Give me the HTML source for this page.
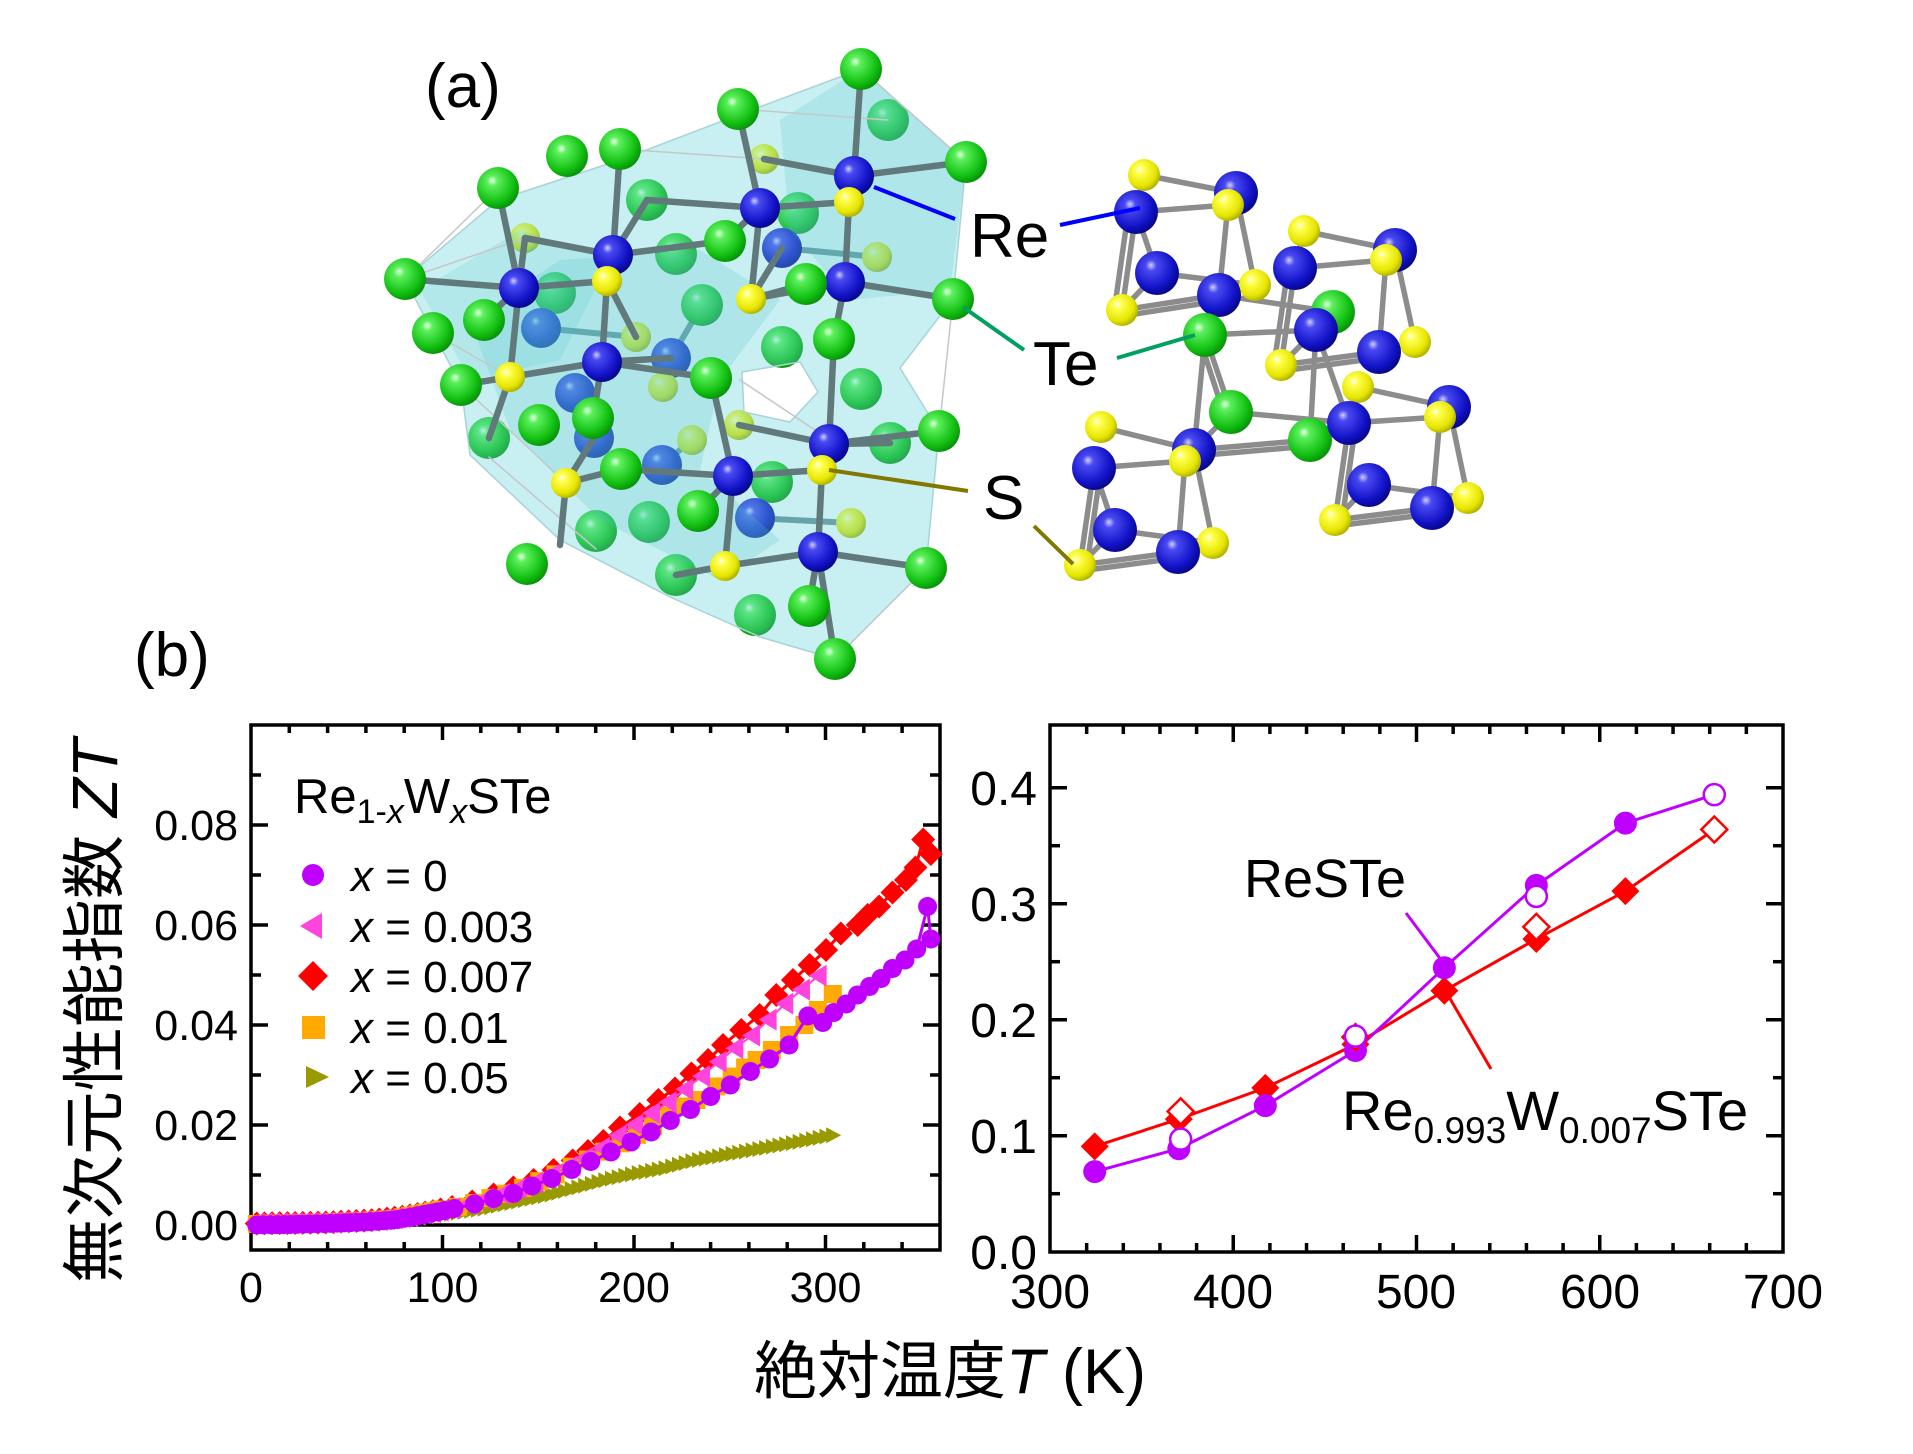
<!DOCTYPE html>
<html><head><meta charset="utf-8">
<style>html,body{margin:0;padding:0;background:#fff}svg{display:block}</style>
</head><body>
<svg id="s" xmlns="http://www.w3.org/2000/svg" width="1913" height="1454" viewBox="0 0 1913 1454" font-family="'Liberation Sans','Noto Sans CJK JP',sans-serif">
<defs>
<radialGradient id="gG" cx="0.4" cy="0.38" r="0.68" fx="0.36" fy="0.32">
<stop offset="0" stop-color="#e8ffe8"/><stop offset="0.18" stop-color="#5cf05c"/><stop offset="0.7" stop-color="#12c012"/><stop offset="1" stop-color="#068806"/></radialGradient>
<radialGradient id="gB" cx="0.4" cy="0.38" r="0.68" fx="0.36" fy="0.32">
<stop offset="0" stop-color="#d0d0ff"/><stop offset="0.18" stop-color="#4a4af2"/><stop offset="0.7" stop-color="#1212c8"/><stop offset="1" stop-color="#04047a"/></radialGradient>
<radialGradient id="gY" cx="0.4" cy="0.38" r="0.68" fx="0.36" fy="0.32">
<stop offset="0" stop-color="#ffffee"/><stop offset="0.2" stop-color="#ffff50"/><stop offset="0.7" stop-color="#e6e600"/><stop offset="1" stop-color="#a4a400"/></radialGradient>
</defs>
<rect width="1913" height="1454" fill="#fff"/>

<!-- Structure (a) -->
<g id="lback"></g>
<path fill="#5fd0d6" fill-opacity="0.34" fill-rule="evenodd" stroke="#a8d4d6" stroke-width="1.5" d="M405,279 L498,200 L620,160 L738,115 L861,69 L966,162 L953,299 L900,368 L939,431 L926,568 L835,659 L760,637 L670,597 L560,540 L470,455 L461,385 L433,333 Z M742,372 L800,362 L818,392 L790,422 L744,412 Z"/>
<path fill="#4cc4cc" fill-opacity="0.22" d="M470,320 L560,260 L700,250 L780,300 L720,380 L700,470 L780,540 L720,580 L600,520 L510,430 Z"/>
<path fill="#4cc4cc" fill-opacity="0.2" d="M780,120 L861,69 L966,162 L950,290 L850,300 L790,230 Z"/>
<path fill="#4cc4cc" fill-opacity="0.16" d="M420,290 L520,230 L610,260 L560,360 L470,380 Z"/>
<g id="lbond"></g>
<g id="lfront"></g>
<g id="rbond"></g>
<g id="ratoms"></g>

<g stroke-width="4" fill="none">
<line x1="874" y1="187" x2="955" y2="219" stroke="#0000ff"/>
<line x1="1060" y1="225" x2="1140" y2="208" stroke="#0000ff"/>
<line x1="963" y1="307" x2="1024" y2="350" stroke="#00a060"/>
<line x1="1117" y1="358" x2="1195" y2="335" stroke="#00a060"/>
<line x1="829" y1="470" x2="968" y2="491" stroke="#807800"/>
<line x1="1034" y1="526" x2="1073" y2="564" stroke="#807800"/>
</g>
<text x="425" y="107" font-size="62">(a)</text>
<text x="970" y="257" font-size="62">Re</text>
<text x="1033" y="385" font-size="62">Te</text>
<text x="983" y="519" font-size="62">S</text>
<text x="134" y="676" font-size="62">(b)</text>

<!-- axes -->
<rect x="251" y="725" width="689" height="525" fill="none" stroke="#000" stroke-width="3.5"/>
<line x1="251" y1="1225" x2="940" y2="1225" stroke="#000" stroke-width="3.5"/>
<rect x="1050" y="725" width="733" height="527" fill="none" stroke="#000" stroke-width="3.5"/>
<g id="axes"></g>
<g id="data"></g>

<!-- left tick labels -->
<g font-size="43" text-anchor="end">
<text x="238" y="1240">0.00</text>
<text x="238" y="1140">0.02</text>
<text x="238" y="1040">0.04</text>
<text x="238" y="940">0.06</text>
<text x="238" y="840">0.08</text>
</g>
<g font-size="43" text-anchor="middle">
<text x="251" y="1302">0</text>
<text x="442.5" y="1302">100</text>
<text x="634" y="1302">200</text>
<text x="825.5" y="1302">300</text>
</g>
<!-- right tick labels -->
<g font-size="48" text-anchor="end">
<text x="1037" y="1269">0.0</text>
<text x="1037" y="1153">0.1</text>
<text x="1037" y="1037">0.2</text>
<text x="1037" y="921">0.3</text>
<text x="1037" y="805">0.4</text>
</g>
<g font-size="48" text-anchor="middle">
<text x="1050" y="1308">300</text>
<text x="1233" y="1308">400</text>
<text x="1416" y="1308">500</text>
<text x="1600" y="1308">600</text>
<text x="1783" y="1308">700</text>
</g>

<!-- legend -->
<text x="294" y="813" font-size="49">Re<tspan font-size="34" dy="10">1-</tspan><tspan font-size="34" font-style="italic">x</tspan><tspan dy="-10">W</tspan><tspan font-size="34" font-style="italic" dy="10">x</tspan><tspan dy="-10">STe</tspan></text>
<g font-size="44">
<text x="351" y="891"><tspan font-style="italic">x</tspan> = 0</text>
<text x="351" y="942"><tspan font-style="italic">x</tspan> = 0.003</text>
<text x="351" y="992"><tspan font-style="italic">x</tspan> = 0.007</text>
<text x="351" y="1043"><tspan font-style="italic">x</tspan> = 0.01</text>
<text x="351" y="1093"><tspan font-style="italic">x</tspan> = 0.05</text>
</g>
<circle cx="313" cy="875" r="11" fill="#c000ff"/>
<polygon points="300,926 322,913 322,939" fill="#ff44dd"/>
<polygon points="313,961 328,976 313,991 298,976" fill="#ff0000"/>
<rect x="302" y="1016" width="23" height="23" fill="#ffaa00"/>
<polygon points="306,1066 306,1088 329,1077" fill="#999900"/>

<!-- annotations -->
<text x="1244" y="897" font-size="54">ReSTe</text>
<text x="1342" y="1130" font-size="56">Re<tspan font-size="37" dy="13">0.993</tspan><tspan dy="-13">W</tspan><tspan font-size="37" dy="13">0.007</tspan><tspan dy="-13">STe</tspan></text>
<line x1="1406" y1="913" x2="1445" y2="965" stroke="#c000ff" stroke-width="3"/>
<line x1="1445" y1="990" x2="1491" y2="1069" stroke="#ff0000" stroke-width="3"/>

<!-- axis titles -->
<text x="754" y="1393" font-size="63">絶対温度<tspan font-style="italic">T</tspan> (K)</text>
<text transform="translate(117,1011) rotate(-90)" text-anchor="middle" font-size="64">無次元性能指数 <tspan font-style="italic">ZT</tspan></text>
</svg>
<script>
(function(){
var NS='http://www.w3.org/2000/svg';
function mk(t,a,p){var e=document.createElementNS(NS,t);for(var k in a)e.setAttribute(k,a[k]);p.appendChild(e);return e;}
function $(i){return document.getElementById(i);}
var G='url(#gG)',B='url(#gB)',Y='url(#gY)';
function atoms(list,fill,r,p){list.forEach(function(q){mk('circle',{cx:q[0],cy:q[1],r:r,fill:fill},p);});}
function bonds(list,col,w,p){list.forEach(function(b){mk('line',{x1:b[0],y1:b[1],x2:b[2],y2:b[3],stroke:col,'stroke-width':w,'stroke-linecap':'round'},p);});}

/* ---------- left structure ---------- */
var lb=$('lback'),lbd=$('lbond'),lf=$('lfront');
bonds([[782,248,798,213],[782,248,877,257],[541,328,636,337],[671,358,663,387],[575,393,594,438],[662,465,692,440],[755,518,851,523],[755,518,772,482],[541,328,555,293],[671,358,702,305]],'#6d8c90',6,lb);
atoms([[888,120],[647,200],[676,254],[798,213],[555,293],[702,305],[782,347],[861,389],[489,438],[890,443],[649,522],[596,531],[676,575],[755,615],[772,482]],G,21,lb);
atoms([[782,248],[541,328],[671,358],[575,393],[594,438],[662,465],[755,518]],B,20,lb);
atoms([[764,159],[525,238],[877,257],[636,337],[663,387],[739,425],[692,440],[851,523]],Y,15,lb);
bonds([[405,279,525,238],[433,333,510,377],[461,385,566,483],[489,457,596,549],[620,149,764,159],[738,109,888,120],[861,69,966,162],[953,299,939,431],[926,568,835,659],[498,188,405,279],[740,380,830,440]],'#c4c8c8',1.5,lbd);
bonds([[861,69,854,176],[738,109,760,208],[854,176,966,162],[854,176,764,159],[854,176,849,202],[760,208,647,200],[760,208,849,202],[760,208,725,241],[849,202,845,282],[620,149,613,255],[613,255,647,200],[613,255,725,241],[498,188,519,288],[519,288,525,238],[525,238,613,255],[405,279,519,288],[519,288,607,281],[519,288,484,320],[607,281,602,362],[613,255,607,281],[607,281,636,337],[845,282,953,299],[845,282,834,339],[845,282,751,299],[782,248,751,299],[760,208,751,299],[834,339,829,444],[602,362,510,377],[602,362,711,378],[602,362,593,418],[519,288,510,377],[510,377,461,385],[711,378,733,476],[829,444,939,431],[829,444,822,470],[822,470,733,476],[822,470,818,552],[733,476,621,469],[733,476,698,511],[566,483,621,469],[818,552,926,568],[818,552,725,566],[818,552,809,606],[818,552,835,659],[733,476,725,566],[739,425,829,444],[566,483,594,438],[566,483,560,545],[806,284,845,282],[751,299,806,284],[602,362,671,358],[510,377,489,438],[725,566,676,575],[829,444,890,443]],'#62797c',6.5,lbd);
atoms([[854,176],[760,208],[613,255],[519,288],[845,282],[602,362],[829,444],[733,476],[818,552]],B,20,lf);
atoms([[861,69],[738,109],[567,156],[620,149],[966,162],[498,188],[725,241],[405,279],[484,320],[806,284],[953,299],[433,333],[834,339],[711,378],[461,385],[539,425],[593,418],[939,431],[621,469],[698,511],[527,564],[926,568],[809,606],[835,659]],G,21,lf);
atoms([[849,202],[607,281],[751,299],[510,377],[566,483],[822,470],[725,566]],Y,15,lf);

/* ---------- right structure ---------- */
var rb=$('rbond'),ra=$('ratoms');
bonds([[1144,175,1236,193],[1144,175,1136,212],[1136,212,1228,205],[1136,212,1122,310],[1128,214,1114,312],[1136,212,1157,273],[1157,273,1122,310],[1122,310,1219,295],[1122,316,1219,301],[1157,273,1255,285],[1228,205,1219,295],[1236,193,1255,285],[1219,295,1205,335],[1219,295,1333,312],[1205,335,1316,330],[1205,335,1231,412],[1199,337,1224,414],[1205,335,1194,450],[1295,268,1304,231],[1304,231,1395,250],[1295,268,1386,260],[1295,268,1281,365],[1288,268,1274,365],[1386,260,1379,352],[1395,250,1415,342],[1281,365,1379,352],[1281,371,1379,358],[1316,330,1281,365],[1316,330,1310,440],[1316,330,1349,423],[1231,412,1349,423],[1231,412,1194,450],[1194,450,1310,440],[1194,456,1310,446],[1101,427,1194,450],[1094,468,1185,461],[1094,468,1080,565],[1101,468,1087,565],[1185,461,1178,552],[1194,450,1213,543],[1115,530,1080,565],[1115,530,1213,543],[1080,565,1178,552],[1080,571,1178,558],[1310,440,1349,423],[1358,387,1449,407],[1358,387,1349,423],[1349,423,1440,417],[1349,423,1335,520],[1356,423,1342,520],[1440,417,1432,508],[1449,407,1468,498],[1369,485,1335,520],[1369,485,1468,498],[1335,520,1432,508],[1335,526,1432,514],[1094,468,1115,530]],'#8c8c8c',5.5,rb);
atoms([[1144,175],[1255,285],[1304,231],[1415,342],[1358,387],[1101,427],[1213,543],[1468,498]],Y,16,ra);
atoms([[1333,312],[1231,412],[1310,440]],G,22,ra);
atoms([[1157,273],[1115,530],[1369,485]],B,22,ra);
atoms([[1136,212],[1236,193],[1219,295],[1295,268],[1395,250],[1316,330],[1379,352],[1094,468],[1194,450],[1178,552],[1349,423],[1449,407],[1432,508]],B,22,ra);
atoms([[1205,335]],G,22,ra);
atoms([[1228,205],[1122,310],[1386,260],[1281,365],[1440,417],[1185,461],[1080,565],[1335,520]],Y,16,ra);

/* ---------- axes ticks ---------- */
var ax=$('axes');
function tk(x1,y1,x2,y2){mk('line',{x1:x1,y1:y1,x2:x2,y2:y2,stroke:'#000','stroke-width':3.5},ax);}
var xL=function(T){return 251+T*1.915;}, yL=function(z){return 1225-z*5000;};
for(var T=20;T<=350;T+=20){var x=xL(T),mj=(T%100===0),l=mj?15:8;tk(x,1250,x,1250-l);tk(x,725,x,725+l);}
for(var k=1;k<=9;k++){var y=yL(k*0.01),mj2=(k%2===0),l2=mj2?17:10;tk(251,y,251+l2,y);tk(940,y,940-l2,y);}
var xR=function(T){return 1050+(T-300)*1.8325;}, yR=function(z){return 1251.7-z*1160;};
for(var T2=320;T2<700;T2+=20){var x2=xR(T2),m3=(T2%100===0),l3=m3?17:9;tk(x2,1252,x2,1252-l3);tk(x2,725,x2,725+l3);}
for(var k2=1;k2<=8;k2++){var y2=yR(k2*0.05),m4=(k2%2===0),l4=m4?17:10;tk(1050,y2,1050+l4,y2);tk(1783,y2,1783-l4,y2);}

/* ---------- left data ---------- */
var dg=$('data');
function interp(tab,T){if(T<=tab[0][0])return tab[0][1];for(var i=1;i<tab.length;i++){if(T<=tab[i][0]){var a=tab[i-1],b=tab[i];return a[1]+(b[1]-a[1])*(T-a[0])/(b[0]-a[0]);}}return tab[tab.length-1][1];}
function pl(pts,col,w,fx,fy){mk('polyline',{points:pts.map(function(p){return fx(p[0]).toFixed(1)+','+fy(p[1]).toFixed(1);}).join(' '),fill:'none',stroke:col,'stroke-width':w,'stroke-linejoin':'round'},dg);}
var pT=[[0,0],[20,0.0001],[40,0.0003],[60,0.0006],[75,0.001],[89,0.002],[96,0.0025],[106,0.0033],[116.7,0.0042],[126.7,0.0053],[137,0.0063],[146.7,0.0078],[157,0.0093],[167.5,0.0111],[177.4,0.0127],[188,0.0146],[198.5,0.0166],[209,0.0186],[219,0.0209],[229.5,0.0231],[240,0.0257],[250.3,0.028],[260.8,0.0307],[270.8,0.0332],[281,0.036]];
var pJ=[[290.8,0.0418],[298.6,0.0405],[304.3,0.0425],[310.8,0.0442],[316.7,0.046],[323,0.0477],[329,0.0493],[335,0.0513],[341.5,0.053],[347.6,0.0552],[353.3,0.0637],[355,0.0572]];
var purple=[];for(var t=3;t<103;t+=3.5)purple.push([t,interp(pT,t)]);pT.forEach(function(p){if(p[0]>=106)purple.push(p);});purple=purple.concat(pJ);
var rT=[[3,0.0003],[40,0.0005],[65,0.001],[80,0.0017],[95.5,0.0028],[105,0.0036],[115.5,0.0047],[126.7,0.0061],[137,0.0075],[147.6,0.009],[158,0.011],[168,0.0129],[176,0.0148],[184,0.0168],[192.7,0.0195],[203,0.0222],[212.7,0.025],[221.4,0.0273],[230,0.0303],[238.7,0.033],[246.5,0.036],[256,0.039],[265.6,0.042],[274.3,0.046],[283,0.049],[291.7,0.052],[300.3,0.055],[308,0.0583],[316.8,0.06],[322,0.062],[328,0.0637],[335,0.0665],[342,0.069],[347,0.0715],[351,0.0771],[355,0.0742]];
var red=[];for(t=3;t<101;t+=4)red.push([t,interp(rT,t)]);rT.forEach(function(p){if(p[0]>=105)red.push(p);});
var pink=[];for(t=3;t<101;t+=4)pink.push([t,0.92*interp(rT,t)]);for(t=105;t<=305;t+=8.7)pink.push([t,0.93*interp(rT,t)]);
var oT=[[232.6,0.025],[243,0.0277],[251,0.0297],[258,0.0315],[264,0.033],[272,0.035],[281,0.038],[289,0.04],[296,0.043],[303.8,0.0462]];
var orange=[];for(t=3;t<101;t+=4)orange.push([t,1.05*interp(pT,t)+0.0002]);for(t=108;t<230;t+=8.5)orange.push([t,1.05*interp(pT,t)]);orange=orange.concat(oT);
var oliT=[[0,0],[40,0.0002],[80,0.001],[100,0.002],[121,0.0032],[156,0.006],[187.5,0.0092],[200,0.0102],[215,0.0112],[231,0.0128],[260,0.0148],[285,0.0165],[306,0.0181]];
var olive=[];for(t=3;t<=306;t+=3.5)olive.push([t,interp(oliT,t)]);
olive.forEach(function(p){var x=xL(p[0]),y=yL(p[1]);mk('polygon',{points:(x-7)+','+(y-8)+' '+(x-7)+','+(y+8)+' '+(x+8)+','+y,fill:'#999900'},dg);});
pl(red,'#ff0000',3,xL,yL);
red.forEach(function(p){var x=xL(p[0]),y=yL(p[1]),h=12;mk('polygon',{points:x+','+(y-h)+' '+(x+h)+','+y+' '+x+','+(y+h)+' '+(x-h)+','+y,fill:'#ff0000'},dg);});
pl(orange,'#ffaa00',2,xL,yL);
orange.forEach(function(p){var x=xL(p[0]),y=yL(p[1]);mk('rect',{x:x-9,y:y-9,width:18,height:18,fill:'#ffaa00'},dg);});
pl(pink,'#ff44dd',2,xL,yL);
pink.forEach(function(p){var x=xL(p[0]),y=yL(p[1]);mk('polygon',{points:(x-10)+','+y+' '+(x+8)+','+(y-11)+' '+(x+8)+','+(y+11),fill:'#ff44dd'},dg);});
pl(purple,'#c000ff',3,xL,yL);
purple.forEach(function(p){mk('circle',{cx:xL(p[0]),cy:yL(p[1]),r:9.5,fill:'#c000ff'},dg);});

/* ---------- right data ---------- */
var PF=[[324.4,0.069],[370.3,0.0888],[417.5,0.1259],[466.7,0.1734],[515.2,0.2448],[565.4,0.3158],[614,0.3695]];
var PO=[[371.3,0.097],[466.7,0.1858],[565.4,0.3063],[662.5,0.394]];
var RF=[[324.4,0.0908],[370.3,0.1143],[417.5,0.1412],[466.7,0.1787],[515.2,0.225],[565.4,0.2696],[614,0.3108]];
var RO=[[371.3,0.121],[466.7,0.185],[565.4,0.28],[662.5,0.364]];
pl(RF.concat([RO[3]]),'#ff0000',3,xR,yR);
pl(PF.concat([PO[3]]),'#c000ff',3,xR,yR);
function dia(x,y,h,a){a.points=x+','+(y-h)+' '+(x+h)+','+y+' '+x+','+(y+h)+' '+(x-h)+','+y;mk('polygon',a,dg);}
RF.forEach(function(p){dia(xR(p[0]),yR(p[1]),14,{fill:'#ff0000'});});
PF.forEach(function(p){mk('circle',{cx:xR(p[0]),cy:yR(p[1]),r:11.5,fill:'#c000ff'},dg);});
RO.forEach(function(p){dia(xR(p[0]),yR(p[1]),13,{fill:'#fff',stroke:'#ff0000','stroke-width':2.5});});
PO.forEach(function(p){mk('circle',{cx:xR(p[0]),cy:yR(p[1]),r:10.5,fill:'#fff',stroke:'#c000ff','stroke-width':2.5},dg);});
})();
</script>
</body></html>
